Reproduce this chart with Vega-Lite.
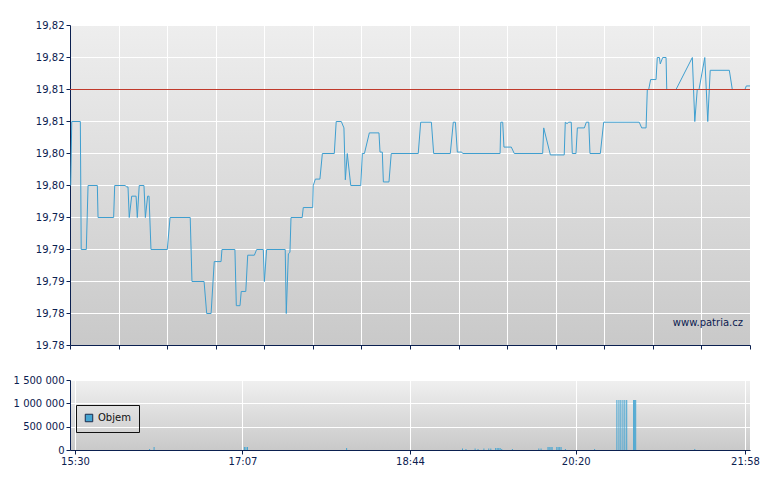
{
  "$schema": "https://vega.github.io/schema/vega-lite/v6.json",
  "background": "white",
  "padding": {"left": 13, "top": 20, "right": 5, "bottom": 5},
  "bounds": "flush",
  "spacing": 35,
  "resolve": {"legend": {"color": "independent"}},
  "config": {
    "locale": {"number": {"decimal": ",", "thousands": " ", "grouping": [3], "currency": ["", ""]}},
    "font": "DejaVu Sans",
    "view": {"stroke": null},
    "axis": {
      "domainColor": "#0b2050",
      "tickColor": "#0b2050",
      "labelColor": "#0b2050",
      "labelFont": "DejaVu Sans",
      "labelFontSize": 10,
      "gridColor": "#ffffff",
      "gridOpacity": 1,
      "gridWidth": 1,
      "tickSize": 4,
      "labelPadding": 2,
      "labelOverlap": false,
      "title": null
    }
  },
  "vconcat": [
    {
      "width": 680,
      "height": 320,
      "view": {
        "stroke": null,
        "fill": {"gradient": "linear", "x1": 0, "y1": 0, "x2": 0, "y2": 1,
          "stops": [{"offset": 0, "color": "#eeeeee"}, {"offset": 1, "color": "#c9c9c9"}]}
      },
      "layer": [
        {
          "data": {"values": [
            {"t": 930.4, "price": 19.7987}, {"t": 931.0, "price": 19.8077}, {"t": 935.9, "price": 19.8077},
            {"t": 936.4, "price": 19.7897}, {"t": 939.3, "price": 19.7897}, {"t": 940.3, "price": 19.7987},
            {"t": 945.6, "price": 19.7987}, {"t": 946.0, "price": 19.7942}, {"t": 954.9, "price": 19.7942},
            {"t": 955.5, "price": 19.7987}, {"t": 961.4, "price": 19.7987}, {"t": 962.4, "price": 19.7985},
            {"t": 963.1, "price": 19.7985}, {"t": 963.8, "price": 19.7942}, {"t": 965.2, "price": 19.7972},
            {"t": 967.7, "price": 19.7972}, {"t": 968.4, "price": 19.7942}, {"t": 969.5, "price": 19.7987},
            {"t": 972.2, "price": 19.7987}, {"t": 973.0, "price": 19.7942}, {"t": 974.3, "price": 19.7972},
            {"t": 975.1, "price": 19.7972}, {"t": 976.2, "price": 19.7897}, {"t": 985.5, "price": 19.7897},
            {"t": 987.1, "price": 19.7942}, {"t": 998.6, "price": 19.7942}, {"t": 999.6, "price": 19.7852},
            {"t": 1006.5, "price": 19.7852}, {"t": 1008.0, "price": 19.7807}, {"t": 1010.5, "price": 19.7807},
            {"t": 1012.3, "price": 19.788}, {"t": 1016.2, "price": 19.788}, {"t": 1016.7, "price": 19.7897},
            {"t": 1024.1, "price": 19.7897}, {"t": 1024.9, "price": 19.7818}, {"t": 1027.0, "price": 19.7818},
            {"t": 1027.7, "price": 19.7838}, {"t": 1030.3, "price": 19.7838}, {"t": 1031.4, "price": 19.7889},
            {"t": 1035.2, "price": 19.7889}, {"t": 1036.5, "price": 19.7897}, {"t": 1040.3, "price": 19.7897},
            {"t": 1040.9, "price": 19.7852}, {"t": 1042.2, "price": 19.7897}, {"t": 1052.8, "price": 19.7897},
            {"t": 1053.4, "price": 19.7807}, {"t": 1054.6, "price": 19.7891}, {"t": 1055.5, "price": 19.7893},
            {"t": 1056.1, "price": 19.7942}, {"t": 1062.5, "price": 19.7942}, {"t": 1063.1, "price": 19.7956},
            {"t": 1068.5, "price": 19.7956}, {"t": 1068.8, "price": 19.7987}, {"t": 1070.0, "price": 19.7996},
            {"t": 1072.6, "price": 19.7996}, {"t": 1074.0, "price": 19.8032}, {"t": 1080.8, "price": 19.8032},
            {"t": 1081.9, "price": 19.8077}, {"t": 1084.8, "price": 19.8077}, {"t": 1086.3, "price": 19.8068},
            {"t": 1087.1, "price": 19.7995}, {"t": 1088.2, "price": 19.8032}, {"t": 1090.2, "price": 19.7987},
            {"t": 1095.9, "price": 19.7987}, {"t": 1096.8, "price": 19.8032}, {"t": 1098.0, "price": 19.8032},
            {"t": 1100.8, "price": 19.8061}, {"t": 1106.3, "price": 19.8061}, {"t": 1106.9, "price": 19.8034},
            {"t": 1108.2, "price": 19.8034}, {"t": 1108.8, "price": 19.7992}, {"t": 1112.0, "price": 19.7992},
            {"t": 1113.3, "price": 19.8032}, {"t": 1128.7, "price": 19.8032}, {"t": 1130.1, "price": 19.8076},
            {"t": 1136.2, "price": 19.8076}, {"t": 1137.5, "price": 19.8032}, {"t": 1147.0, "price": 19.8032},
            {"t": 1148.7, "price": 19.8076}, {"t": 1149.9, "price": 19.8076}, {"t": 1151.0, "price": 19.8034},
            {"t": 1153.5, "price": 19.8034}, {"t": 1154.1, "price": 19.8032}, {"t": 1175.4, "price": 19.8032},
            {"t": 1175.8, "price": 19.8076}, {"t": 1176.9, "price": 19.8076}, {"t": 1177.6, "price": 19.8041},
            {"t": 1181.8, "price": 19.8041}, {"t": 1183.5, "price": 19.8032}, {"t": 1199.7, "price": 19.8032},
            {"t": 1200.3, "price": 19.8068}, {"t": 1204.1, "price": 19.803}, {"t": 1212.0, "price": 19.803},
            {"t": 1212.6, "price": 19.8076}, {"t": 1213.6, "price": 19.8074}, {"t": 1214.6, "price": 19.8076},
            {"t": 1216.0, "price": 19.8076}, {"t": 1216.6, "price": 19.8032}, {"t": 1218.7, "price": 19.8032},
            {"t": 1219.5, "price": 19.8068}, {"t": 1223.5, "price": 19.8068}, {"t": 1224.6, "price": 19.8076},
            {"t": 1226.0, "price": 19.8076}, {"t": 1226.7, "price": 19.8032}, {"t": 1232.6, "price": 19.8032},
            {"t": 1234.5, "price": 19.8076}, {"t": 1254.8, "price": 19.8076}, {"t": 1256.2, "price": 19.8068},
            {"t": 1258.7, "price": 19.8068}, {"t": 1259.4, "price": 19.8122}, {"t": 1260.2, "price": 19.8122},
            {"t": 1261.3, "price": 19.8136}, {"t": 1264.4, "price": 19.8136}, {"t": 1265.1, "price": 19.8167},
            {"t": 1266.3, "price": 19.8167}, {"t": 1266.8, "price": 19.8158}, {"t": 1268.2, "price": 19.8167},
            {"t": 1270.1, "price": 19.8167}, {"t": 1270.5, "price": 19.8122}, {"t": 1275.8, "price": 19.8122},
            {"t": 1285.1, "price": 19.8167}, {"t": 1286.5, "price": 19.8077}, {"t": 1287.9, "price": 19.8122},
            {"t": 1288.9, "price": 19.8122}, {"t": 1292.2, "price": 19.8167}, {"t": 1293.9, "price": 19.8077},
            {"t": 1295.3, "price": 19.8149}, {"t": 1306.2, "price": 19.8149}, {"t": 1307.9, "price": 19.8122},
            {"t": 1315.1, "price": 19.8122}, {"t": 1315.9, "price": 19.8127}, {"t": 1318.0, "price": 19.8127}
          ]},
          "mark": {"type": "line", "color": "#3f9fd0", "strokeWidth": 1, "clip": true, "yOffset": 0.5},
          "encoding": {
            "x": {
              "field": "t", "type": "quantitative",
              "scale": {"domain": [930, 1318], "nice": false, "zero": false},
              "axis": {
                "values": [930, 957.714, 985.429, 1013.143, 1040.857, 1068.571, 1096.286, 1124, 1151.714, 1179.429, 1207.143, 1234.857, 1262.571, 1290.286, 1318],
                "tickCount": 30,
                "labels": false, "grid": true
              }
            },
            "y": {
              "field": "price", "type": "quantitative",
              "scale": {"domain": [19.7762, 19.8212], "nice": false, "zero": false},
              "axis": {
                "values": [19.7762, 19.7807, 19.7852, 19.7897, 19.7942, 19.7987, 19.8032, 19.8077, 19.8122, 19.8167, 19.8212],
                "tickCount": 30,
                "format": ",.2f",
                "labelExpr": "datum.value < 19.777 ? '19.78' : datum.label",
                "grid": true
              }
            }
          }
        },
        {
          "data": {"values": [{"prev_close": 19.8122}]},
          "mark": {"type": "rule", "color": "#c0392b", "strokeWidth": 1, "yOffset": 0.5},
          "encoding": {"y": {"field": "prev_close", "type": "quantitative"}}
        },
        {
          "data": {"values": [{"t": 1314, "price": 19.7793, "label": "www.patria.cz"}]},
          "mark": {"type": "text", "align": "right", "baseline": "middle", "fontSize": 10, "color": "#0b2050"},
          "encoding": {
            "x": {"field": "t", "type": "quantitative"},
            "y": {"field": "price", "type": "quantitative"},
            "text": {"field": "label"}
          }
        }
      ]
    },
    {
      "width": 680,
      "height": 70,
      "view": {
        "stroke": null,
        "fill": {"gradient": "linear", "x1": 0, "y1": 0, "x2": 0, "y2": 1,
          "stops": [{"offset": 0, "color": "#f0f0f0"}, {"offset": 1, "color": "#c9c9c9"}]}
      },
      "data": {"values": [
        {"t": 973.2, "volume": 21000}, {"t": 975.8, "volume": 64000},
        {"t": 1028.1, "volume": 64000}, {"t": 1029.0, "volume": 64000}, {"t": 1029.9, "volume": 64000},
        {"t": 1087.3, "volume": 43000},
        {"t": 1154.4, "volume": 32000}, {"t": 1156.4, "volume": 21000}, {"t": 1161.7, "volume": 32000},
        {"t": 1163.4, "volume": 21000}, {"t": 1166.8, "volume": 32000}, {"t": 1169.6, "volume": 32000},
        {"t": 1170.8, "volume": 32000}, {"t": 1173.6, "volume": 43000}, {"t": 1174.5, "volume": 43000},
        {"t": 1175.4, "volume": 43000}, {"t": 1176.2, "volume": 43000}, {"t": 1177.1, "volume": 21000},
        {"t": 1183.3, "volume": 21000}, {"t": 1198.6, "volume": 32000}, {"t": 1199.9, "volume": 32000},
        {"t": 1203.9, "volume": 64000}, {"t": 1204.6, "volume": 64000}, {"t": 1205.6, "volume": 64000},
        {"t": 1206.3, "volume": 64000}, {"t": 1209.0, "volume": 64000}, {"t": 1209.8, "volume": 64000},
        {"t": 1210.7, "volume": 64000}, {"t": 1211.5, "volume": 64000}, {"t": 1214.0, "volume": 21000},
        {"t": 1230.9, "volume": 21000},
        {"t": 1243.8, "volume": 1070000}, {"t": 1245.0, "volume": 1070000}, {"t": 1246.1, "volume": 1070000},
        {"t": 1247.3, "volume": 1070000}, {"t": 1248.4, "volume": 1070000}, {"t": 1249.5, "volume": 1070000},
        {"t": 1253.5, "volume": 1070000}, {"t": 1254.1, "volume": 1070000}, {"t": 1254.7, "volume": 1070000},
        {"t": 1288.9, "volume": 21000}
      ]},
      "mark": {"type": "bar", "size": 1},
      "encoding": {
        "x": {
          "field": "t", "type": "quantitative",
          "scale": {"domain": [930, 1318], "nice": false, "zero": false},
          "axis": {
            "values": [930, 1027, 1124, 1220, 1318],
            "labelFlush": false,
            "labelExpr": "floor(datum.value / 60) + ':' + (datum.value % 60 < 10 ? '0' : '') + (datum.value % 60)",
            "grid": true
          }
        },
        "y": {
          "field": "volume", "type": "quantitative",
          "scale": {"domain": [0, 1500000], "nice": false},
          "axis": {"values": [0, 500000, 1000000, 1500000], "tickCount": 10, "format": ",d", "grid": true}
        },
        "color": {
          "datum": "Objem", "type": "nominal",
          "scale": {"range": ["#45a5d2"]},
          "legend": {
            "title": null,
            "orient": "none",
            "legendX": 6,
            "legendY": 25,
            "strokeColor": "#111111",
            "padding": 8,
            "symbolType": "square",
            "symbolSize": 56,
            "symbolStrokeColor": "#1b2b4b",
            "symbolStrokeWidth": 1,
            "symbolOpacity": 1,
            "labelFont": "DejaVu Sans",
            "labelFontSize": 10,
            "labelColor": "#111111",
            "labelOffset": 4
          }
        }
      }
    }
  ]
}
